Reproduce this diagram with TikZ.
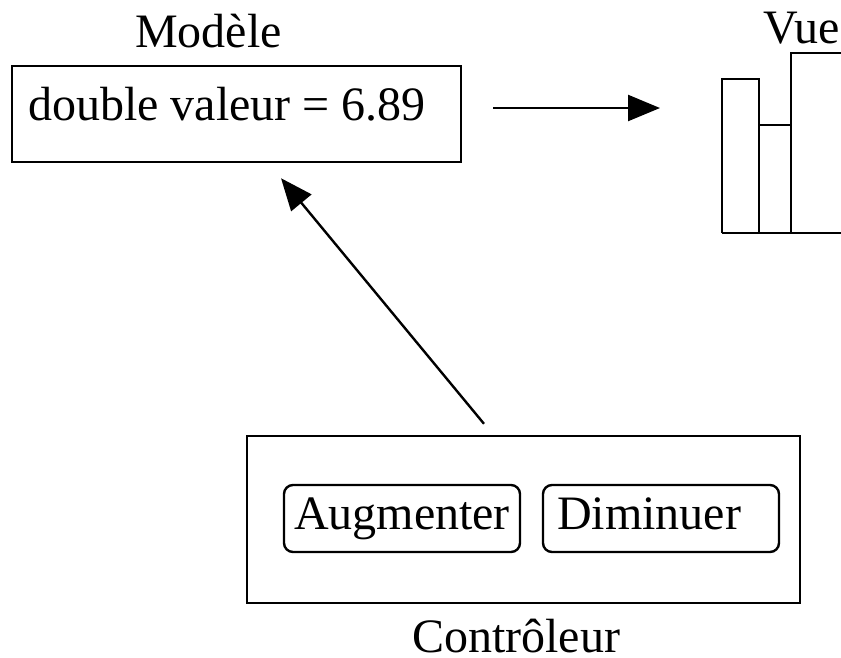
\documentclass[tikz,border=0pt]{standalone}
\usepackage{fontspec}
\setmainfont{Liberation Serif}
\usetikzlibrary{arrows.meta, calc}

\begin{document}
\begin{tikzpicture}[x=1pt, y=-1pt, font=\fontsize{48}{58}\selectfont]

  % Styles
  \tikzset{
    trait/.style={line width=2.4pt, black},
    boite/.style={trait, draw, rectangle, inner sep=0pt},
    bouton/.style={trait, draw, rectangle, rounded corners=9pt,
      minimum width=236pt, minimum height=67pt, text width=216pt,
      align=left, inner xsep=10pt, inner ysep=0pt,
      text height=32pt, text depth=10pt},
    etiquette/.style={inner sep=0pt, anchor=base west},
    fleche/.style={trait, -{Triangle[length=32pt, width=26pt]}},
  }

  \useasboundingbox (0,0) rectangle (841,657);
  \clip (0,0) rectangle (841,657);

  % Modele
  \node[boite, minimum width=449pt, minimum height=96pt] (modele) at (236.5,114) {};
  \node[etiquette] (valeur) at (28,120) {double valeur = 6.89};
  \node[etiquette] (titre-modele) at (135,47) {Modèle};

  % Vue
  \node[etiquette] (titre-vue) at (763,43) {Vue};
  \coordinate (vue) at (722,233);
  \draw[trait] (vue) -- ++(0,-154) -- ++(37,0) -- ++(0,154);
  \draw[trait] (759,125) -- (791,125);
  \draw[trait] (791,233) -- (791,53) -- (850,53);
  \draw[trait] (vue) -- (850,233);

  % Controleur
  \node[boite, minimum width=553pt, minimum height=167pt] (controleur) at (523.5,519.5) {};
  \node[bouton] (augmenter) at (402,518.5) {Augmenter};
  \node[bouton] (diminuer) at (661,518.5) {\hspace*{4pt}Diminuer};
  \node[etiquette] (titre-controleur) at (412,652) {Contrôleur};

  % Fleches
  \coordinate (m-droite) at ([xshift=31pt, yshift=6pt]modele.east);
  \coordinate (v-gauche) at ($(vue)+(-62,-125)$);
  \draw[fleche] (m-droite) -- (v-gauche);

  \coordinate (c-haut) at ([xshift=-39.5pt, yshift=11pt]controleur.north);
  \coordinate (m-bas) at ([xshift=44.5pt, yshift=-15pt]modele.south);
  \draw[fleche] (c-haut) -- (m-bas);

\end{tikzpicture}
\end{document}
